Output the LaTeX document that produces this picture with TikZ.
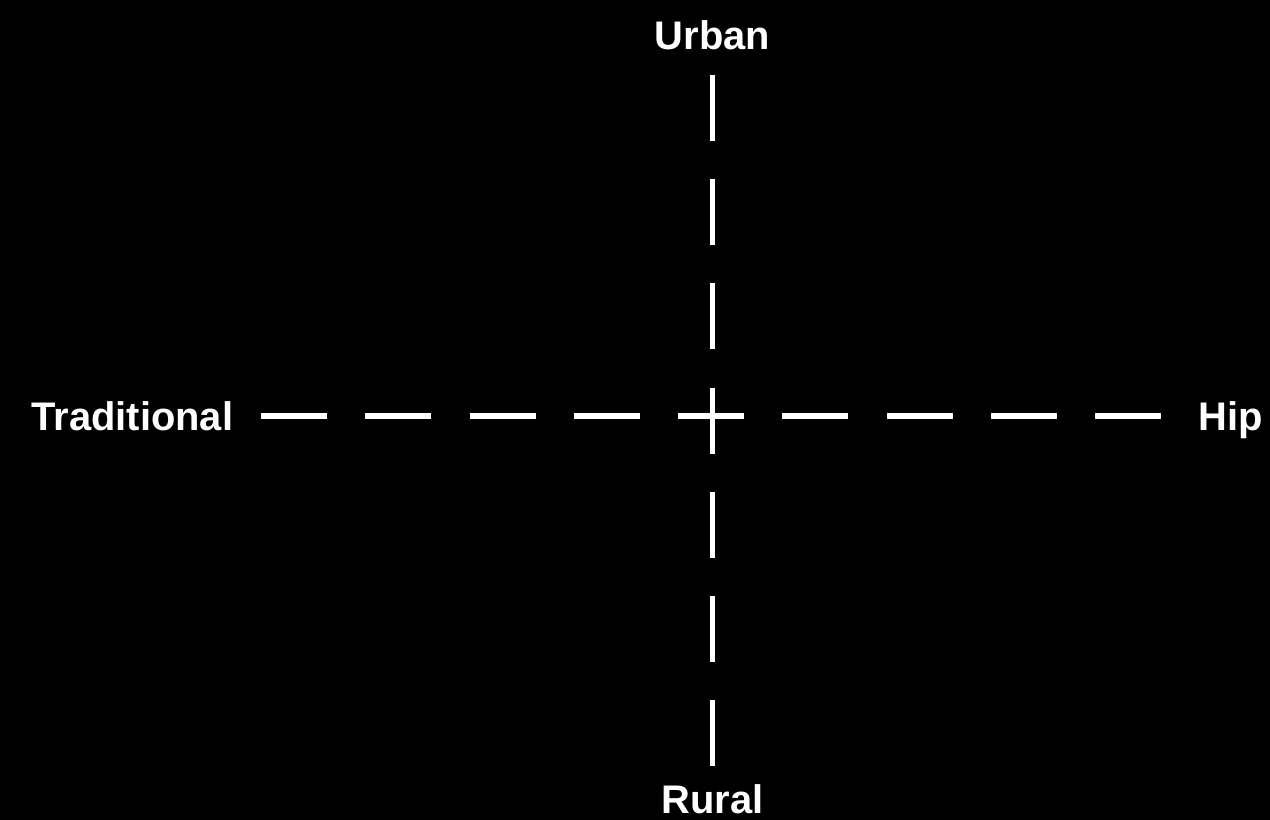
\documentclass[tikz,border=0pt]{standalone}
\usepackage{fontspec}
\setmainfont{Liberation Sans}
\usetikzlibrary{positioning}

\begin{document}
\begin{tikzpicture}[
  axislabel/.style={text=white,inner sep=0pt,text depth=0pt,font=\bfseries\fontsize{22.7}{27}\selectfont},
  axis/.style={draw=white,line width=3pt,dash pattern=on 1.32cm off 0.765cm}
]
  \fill[black] (0,0) rectangle (25.4,16.4);
  \useasboundingbox (0,0) rectangle (25.4,16.4);

  \coordinate (top) at (14.25,14.9);
  \coordinate (bottom) at (14.25,1.08);
  \coordinate (west) at (5.22,8.08);
  \coordinate (east) at (23.24,8.08);

  \node[axislabel,above=0.5cm of top] (urban) {Urban};
  \node[axislabel,below=0.36cm of bottom] (rural) {Rural};
  \node[axislabel,left=0.55cm of west] (traditional) {Traditional};
  \node[axislabel,right=0.72cm of east] (hip) {Hip};

  \draw[axis] (top) -- (bottom);
  \draw[axis] (west) -- (east);
\end{tikzpicture}
\end{document}
